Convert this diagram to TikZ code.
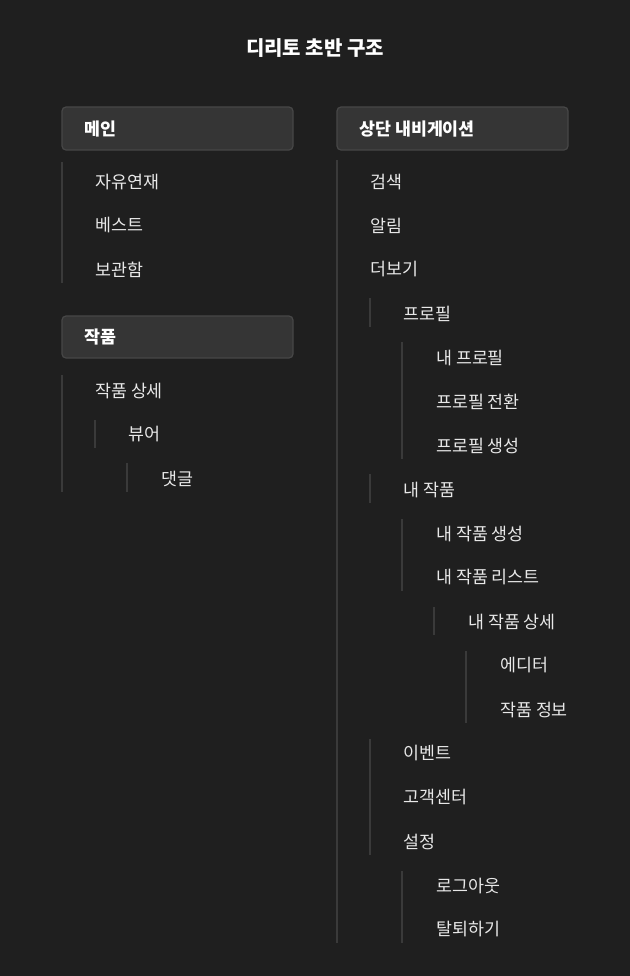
\documentclass[tikz,border=0pt]{standalone}
\usepackage{fontspec}
\setmainfont{Noto Sans CJK KR}
\definecolor{bg}{HTML}{1F1F1F}
\definecolor{boxfill}{HTML}{353535}
\definecolor{boxline}{HTML}{474747}
\definecolor{guideline}{HTML}{3A3A3A}
\definecolor{itemtext}{HTML}{E8E8E8}

\begin{document}
\begin{tikzpicture}[x=0.75pt, y=-0.75pt,
    item/.style={anchor=west, inner sep=0pt, text=itemtext, font=\fontsize{13}{15}\selectfont},
    head/.style={anchor=west, inner sep=0pt, text=white, font=\fontsize{13}{15}\selectfont\bfseries},
    headbox/.style={draw=boxline, fill=boxfill, line width=0.9pt, rounded corners=3pt},
    guide/.style={draw=guideline, line width=1.3pt}]
        \fill[bg] (0,0) rectangle (630,976);
        \useasboundingbox (0,0) rectangle (630,976);
        \node[text=white, inner sep=0pt, font=\fontsize{15}{18}\selectfont\bfseries] (title) at (315,48) {디리토 초반 구조};
        % left column
        \draw[headbox] (62,107) rectangle (293,150);
        \node[head] (main) at (84,129) {메인};
        \node[item] (serial) at (95,182.5) {자유연재};
        \node[item] (best) at (95,225.5) {베스트};
        \node[item] (shelf) at (95,269.5) {보관함};
        \draw[guide] (62,162) -- (62,283);
        \draw[headbox] (62,316) rectangle (293,358);
        \node[head] (work) at (84,337.5) {작품};
        \node[item] (workdetail) at (95,390.5) {작품 상세};
        \node[item] (viewer) at (128,434.5) {뷰어};
        \node[item] (comment) at (161,478.5) {댓글};
        \draw[guide] (62,375) -- (62,492);
        \draw[guide] (95,420) -- (95,448);
        \draw[guide] (127,463) -- (127,492);
        % right column
        \draw[headbox] (337,107) rectangle (568,150);
        \node[head] (topnav) at (359,129) {상단 내비게이션};
        \node[item] (search) at (370,182.5) {검색};
        \node[item] (alarm) at (370,225.5) {알림};
        \node[item] (more) at (370,269.5) {더보기};
        \node[item] (profile) at (403,313.5) {프로필};
        \node[item] (myprofile) at (436,357.5) {내 프로필};
        \node[item] (profileswitch) at (436,401.5) {프로필 전환};
        \node[item] (profilenew) at (436,445.5) {프로필 생성};
        \node[item] (mywork) at (403,489.5) {내 작품};
        \node[item] (myworknew) at (436,533.5) {내 작품 생성};
        \node[item] (myworklist) at (436,577.5) {내 작품 리스트};
        \node[item] (myworkdetail) at (468,621.5) {내 작품 상세};
        \node[item] (editor) at (500,665.5) {에디터};
        \node[item] (workinfo) at (500,709.5) {작품 정보};
        \node[item] (event) at (403,753.5) {이벤트};
        \node[item] (help) at (403,797.5) {고객센터};
        \node[item] (settings) at (403,841.5) {설정};
        \node[item] (logout) at (436,885.5) {로그아웃};
        \node[item] (leave) at (436,929.5) {탈퇴하기};
        \draw[guide] (337,160) -- (337,943);
        \draw[guide] (370,298) -- (370,327);
        \draw[guide] (402,342) -- (402,459);
        \draw[guide] (370,474) -- (370,503);
        \draw[guide] (402,519) -- (402,591);
        \draw[guide] (434,607) -- (434,635);
        \draw[guide] (466,651) -- (466,723);
        \draw[guide] (370,739) -- (370,855);
        \draw[guide] (402,871) -- (402,943);
\end{tikzpicture}
\end{document}
